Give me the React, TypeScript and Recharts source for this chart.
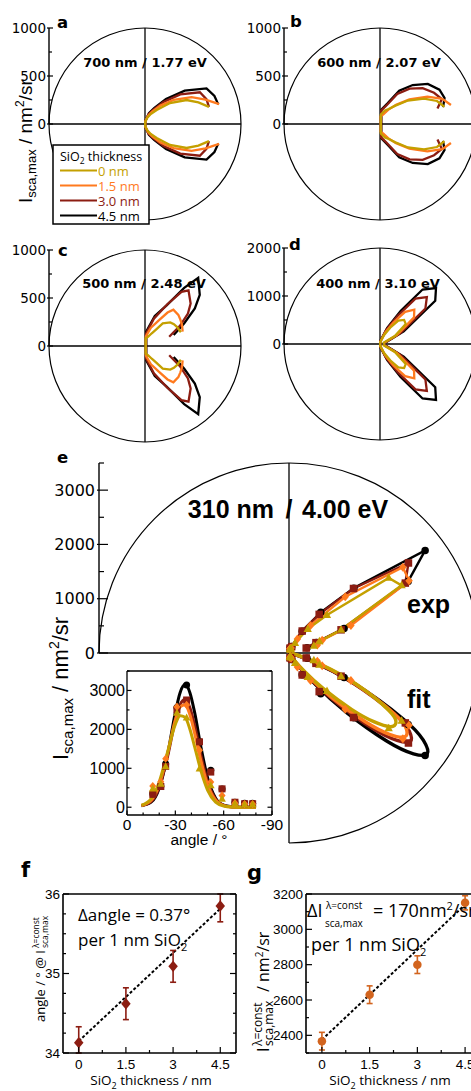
import React from 'react';
import {
  ComposedChart,
  Line,
  Scatter,
  XAxis,
  YAxis,
  ReferenceLine,
  ReferenceDot,
  ErrorBar,
} from 'recharts';

const DEJAVU = '"DejaVu Sans", sans-serif';
const ARIAL = '"Liberation Sans", Arial, sans-serif';
const MYRIAD = '"Open Sans", "Noto Sans", sans-serif';

// SiO2 shell thicknesses, thinnest first
const thicknessLabels = ['0 nm', '1.5 nm', '3.0 nm', '4.5 nm'];
const seriesColors = ['#C4A000', '#FF7A1E', '#8C1D12', '#000000'];
const seriesMarkers = ['triangle', 'diamond', 'square', 'circle'];
// thickest shell drawn first so the thin-shell traces end up on top
const drawOrder = [3, 2, 1, 0];

// radial axis ticks (nm²/sr)
const ticks1000 = [0, 250, 500, 750, 1000];
const major1000 = [0, 500, 1000];
const ticks2000 = [0, 500, 1000, 1500, 2000];
const major2000 = [0, 1000, 2000];
const ticks3500 = [0, 500, 1000, 1500, 2000, 2500, 3000, 3500];
const major3500 = [0, 1000, 2000, 3000];

// lobes: elevation above the substrate (deg) -> I_sca,max (nm²/sr), one row per shell
const angles700 = [85, 70, 60, 50, 40, 30, 22, 15];
const lobe700 = [
  [20, 70, 120, 190, 340, 500, 600, 690],
  [25, 90, 150, 250, 390, 560, 680, 800],
  [30, 110, 170, 300, 480, 660, 690, 690],
  [30, 120, 190, 340, 540, 740, 780, 790],
];

const angles600 = [85, 70, 60, 50, 40, 30, 22, 15];
const lobe600 = [
  [100, 150, 180, 250, 380, 530, 640, 695],
  [80, 110, 170, 260, 400, 570, 700, 765],
  [140, 210, 360, 480, 580, 650, 695, 620],
  [150, 230, 400, 530, 650, 715, 725, 680],
];

const angles500 = [85, 72, 62, 56, 52, 43, 37, 30, 21];
const lobe500 = [
  [80, 100, 150, 210, 300, 360, 377, 390, 400],
  [100, 200, 300, 420, 480, 475, 460, 445, 420],
  [130, 300, 490, 680, 736, 650, 560, 420, 270],
  [150, 330, 480, 730, 900, 780, 650, 470, 320],
];

const angles400 = [85, 66, 58, 52, 45, 38, 28, 15];
const lobe400 = [
  [30, 200, 400, 620, 710, 680, 350, 60],
  [40, 260, 530, 850, 1010, 900, 400, 80],
  [50, 330, 690, 1200, 1380, 1200, 480, 100],
  [60, 370, 810, 1440, 1650, 1460, 560, 120],
];

// 310 nm: measured points and gaussian fits
const expAngles = [16, 21, 24, 31, 37, 45, 52, 59, 67, 73, 78];
const exp310 = [
  [477, 600, 1050, 2420, 2300, 990, 560, 215, 90, 70, 70],
  [543, 654, 1248, 2580, 2626, 1465, 645, 300, 100, 80, 80],
  [330, 532, 1050, 2500, 2755, 1680, 903, 472, 128, 90, 90],
  [345, 540, 1110, 2560, 3140, 1690, 950, 470, 130, 100, 100],
];
const fitAngles = [9, 15, 20, 25, 30, 33, 36, 39, 42, 46, 50, 55, 60, 65, 70, 80];
const fit310 = [
  [50, 220, 650, 1390, 2130, 2350, 2310, 2010, 1550, 920, 440, 130, 30, 5, 0, 0],
  [45, 180, 580, 1350, 2240, 2580, 2630, 2380, 1900, 1170, 580, 180, 40, 6, 0, 0],
  [40, 150, 515, 1270, 2230, 2640, 2765, 2560, 2090, 1310, 660, 205, 45, 7, 0, 0],
  [40, 130, 490, 1310, 2430, 2950, 3150, 2950, 2430, 1520, 760, 230, 50, 10, 0, 0],
];
const insetAngleTicks = [0, -10, -20, -30, -40, -50, -60, -70, -80, -90];
const insetAngleMajor = [0, -30, -60, -90];

// peak position / peak intensity against shell thickness
const shellNm = [0, 1.5, 3, 4.5];
const shellTicks = [0, 0.75, 1.5, 2.25, 3, 3.75, 4.5];
const peakAngle = [34.13, 34.62, 35.09, 35.85];
// [below, above]; the parts running past the frame are left off
const peakAngleErr = [[0.13, 0.2], [0.2, 0.2], [0.2, 0.2], [0.2, 0.15]];
const angleTicks = [34, 34.25, 34.5, 34.75, 35, 35.25, 35.5, 35.75, 36];
const angleMajor = [34, 35, 36];
const angleSlope = 0.37; // deg per nm SiO2
const angleAtZero = 34.15;
const peakIntensity = [2367, 2630, 2800, 3150];
const peakIntensityErr = [[50, 50], [50, 50], [50, 50], [40, 40]];
const intensityTicks = [2300, 2400, 2500, 2600, 2700, 2800, 2900, 3000, 3100, 3200];
const intensityMajor = [2400, 2600, 2800, 3000, 3200];
const intensitySlope = 170; // nm²/sr per nm SiO2
const intensityAtZero = 2375;

const RAD = Math.PI / 180;
const polarPoint = (deg: number, v: number, side: number) => ({
  x: v * Math.cos(deg * RAD),
  y: side * v * Math.sin(deg * RAD),
});
const lobeBranch = (angles: number[], vals: number[], side: number) =>
  angles.map((a, i) => polarPoint(a, vals[i], side));
// lower branch from its tip in to the centre, then the upper branch back out
const mirroredLobe = (angles: number[], vals: number[]) => [
  ...lobeBranch(angles, vals, -1).reverse(),
  ...lobeBranch(angles, vals, 1),
];

type TickSpec = {
  side: 'left' | 'right' | 'top' | 'bottom';
  major: number[];
  inner: number;
  innerMinor: number;
  outer?: number;
  labels?: boolean;
  font?: string;
  size?: number;
  gap?: number;
};

const axisTick = (s: TickSpec) => (p: any) => {
  const v = p.payload.value;
  const isMajor = s.major.some((m) => Math.abs(m - v) < 1e-6);
  const inL = isMajor ? s.inner : s.innerMinor;
  const outL = isMajor ? s.outer ?? 0 : 0;
  const { x, y } = p;
  let c: number[];
  if (s.side === 'left') c = [x - outL, y, x + inL, y];
  else if (s.side === 'right') c = [x + outL, y, x - inL, y];
  else if (s.side === 'top') c = [x, y - outL, x, y + inL];
  else c = [x, y + outL, x, y - inL];
  const showLabel = s.labels && isMajor;
  return (
    <g>
      <line x1={c[0]} y1={c[1]} x2={c[2]} y2={c[3]} stroke="#000" strokeWidth={1.2} />
      {showLabel && s.side === 'left' && (
        <text x={x - (s.gap ?? 3)} y={y} textAnchor="end" dominantBaseline="central"
          fontFamily={s.font} fontSize={s.size} fill="#000">{String(v)}</text>
      )}
      {showLabel && s.side === 'bottom' && (
        <text x={x} y={y + (s.gap ?? 14)} textAnchor="middle"
          fontFamily={s.font} fontSize={s.size} fill="#000">{String(v)}</text>
      )}
    </g>
  );
};

const markerShape = (kind: string, color: string, s: number) => (p: any) => {
  const { cx, cy } = p;
  if (cx == null || cy == null) return <g />;
  if (kind === 'circle') return <circle cx={cx} cy={cy} r={s / 2} fill={color} />;
  if (kind === 'square') return <rect x={cx - s / 2} y={cy - s / 2} width={s} height={s} fill={color} />;
  if (kind === 'diamond')
    return (
      <polygon fill={color}
        points={`${cx},${cy - s * 0.6} ${cx + s * 0.5},${cy} ${cx},${cy + s * 0.6} ${cx - s * 0.5},${cy}`} />
    );
  return (
    <polygon fill={color}
      points={`${cx},${cy - s * 0.6} ${cx + s * 0.55},${cy + s * 0.4} ${cx - s * 0.55},${cy + s * 0.4}`} />
  );
};

type PolarProps = {
  cx: number; cy: number; R: number; max: number;
  ticks: number[]; major: number[];
  angles: number[]; lobes: number[][];
};

// small polar panels (a-d): full circle, lobe traces only
const PolarPanel = ({ cx, cy, R, max, ticks, major, angles, lobes }: PolarProps) => {
  const yw = 48;
  const pad = 10;
  return (
    <div style={{ position: 'absolute', left: cx - R - yw, top: cy - R - pad }}>
      <ComposedChart width={yw + 2 * R + pad} height={2 * R + 2 * pad}
        margin={{ top: pad, right: pad, bottom: pad, left: 0 }}>
        <XAxis type="number" dataKey="x" domain={[-max, max]} hide />
        <YAxis type="number" dataKey="y" domain={[-max, max]} ticks={ticks} interval={0}
          width={yw} axisLine={false} tickLine={false} tickSize={0} tickMargin={0}
          tick={axisTick({ side: 'left', major, inner: 4, innerMinor: 3, outer: 2, labels: true, font: DEJAVU, size: 13.5, gap: 3 })} />
        <ReferenceDot x={0} y={0} r={R} fill="none" stroke="#000" strokeWidth={1.2} />
        <ReferenceLine x={0} stroke="#000" strokeWidth={1.3} />
        <ReferenceLine y={0} stroke="#000" strokeWidth={1.3} />
        <ReferenceLine segment={[{ x: -max, y: 0 }, { x: -max, y: max }]} stroke="#000" strokeWidth={1.4} />
        {drawOrder.map((i) => (
          <Line key={i} data={mirroredLobe(angles, lobes[i])} dataKey="y" type="linear"
            stroke={seriesColors[i]} strokeWidth={2.3} dot={false} isAnimationActive={false} />
        ))}
      </ComposedChart>
    </div>
  );
};

// 310 nm panel: measured lobe on top, fitted lobe below, circle open where the inset sits
const PanelE = () => {
  const cx = 289, cy = 653, R = 190, max = 3500, yw = 52, pad = 6;
  const arc = (p: any) => (
    <path d={`M ${p.cx - R} ${p.cy} A ${R} ${R} 0 1 1 ${p.cx} ${p.cy + R}`}
      fill="none" stroke="#000" strokeWidth={1.2} />
  );
  const series = drawOrder.flatMap((i) => [
    <Line key={`e${i}`} data={lobeBranch(expAngles, exp310[i], 1)} dataKey="y" type="linear"
      stroke={seriesColors[i]} strokeWidth={2.4} dot={false} isAnimationActive={false} />,
    <Scatter key={`em${i}`} data={lobeBranch(expAngles, exp310[i], 1)}
      shape={markerShape(seriesMarkers[i], seriesColors[i], 7.5)} isAnimationActive={false} />,
    <Line key={`f${i}`} data={lobeBranch(fitAngles, fit310[i], -1)} dataKey="y" type="natural"
      stroke={seriesColors[i]} strokeWidth={3.4} dot={false} isAnimationActive={false} />,
    <Scatter key={`fm${i}`} data={lobeBranch(expAngles, exp310[i], -1)}
      shape={markerShape(seriesMarkers[i], seriesColors[i], 7.5)} isAnimationActive={false} />,
  ]);
  return (
    <div style={{ position: 'absolute', left: cx - R - yw, top: cy - R - pad }}>
      <ComposedChart width={yw + 2 * R + pad} height={2 * R + 2 * pad}
        margin={{ top: pad, right: pad, bottom: pad, left: 0 }}>
        <XAxis type="number" dataKey="x" domain={[-max, max]} hide />
        <YAxis type="number" dataKey="y" domain={[-max, max]} ticks={ticks3500} interval={0}
          width={yw} axisLine={false} tickLine={false} tickSize={0} tickMargin={0}
          tick={axisTick({ side: 'left', major: major3500, inner: 9, innerMinor: 5, outer: 2, labels: true, font: DEJAVU, size: 16, gap: 4 })} />
        <ReferenceDot x={0} y={0} r={R} shape={arc} />
        <ReferenceLine x={0} stroke="#000" strokeWidth={1.3} />
        <ReferenceLine y={0} stroke="#000" strokeWidth={1.3} />
        <ReferenceLine segment={[{ x: -max, y: 0 }, { x: -max, y: max }]} stroke="#000" strokeWidth={1.4} />
        {series}
      </ComposedChart>
    </div>
  );
};

// cartesian view of the 310 nm data against emission angle
const InsetE = () => {
  const left = 127, top = 671, w = 145, h = 144, yw = 46, extra = 16;
  const boxLine = { stroke: '#000', strokeWidth: 1.3 };
  const series = drawOrder.flatMap((i) => [
    <Line key={`l${i}`} data={fitAngles.map((a, j) => ({ x: -a, y: fit310[i][j] }))} dataKey="y"
      type="monotone" stroke={seriesColors[i]} strokeWidth={3} dot={false} isAnimationActive={false} />,
    <Scatter key={`s${i}`} data={expAngles.map((a, j) => ({ x: -a, y: exp310[i][j] }))}
      shape={markerShape(seriesMarkers[i], seriesColors[i], 7)} isAnimationActive={false} />,
  ]);
  return (
    <div style={{ position: 'absolute', left: left - yw, top: top - 3 }}>
      <ComposedChart width={yw + w + 4 + extra} height={3 + h + 22}
        margin={{ top: 2, right: 3 + extra, bottom: 0, left: 0 }}>
        <XAxis type="number" dataKey="x" domain={[-90, 0]} reversed allowDataOverflow
          ticks={insetAngleTicks} interval={0} height={22} tickSize={0} tickMargin={0} tickLine={false}
          axisLine={boxLine}
          tick={axisTick({ side: 'bottom', major: insetAngleMajor, inner: 4.5, innerMinor: 2.5, labels: true, font: ARIAL, size: 15.5, gap: 14.5 })} />
        <XAxis xAxisId="top" orientation="top" type="number" domain={[-90, 0]} reversed allowDataOverflow
          ticks={insetAngleTicks} interval={0} height={1} tickSize={0} tickMargin={0} tickLine={false}
          axisLine={boxLine} tick={axisTick({ side: 'top', major: insetAngleMajor, inner: 4.5, innerMinor: 2.5 })} />
        <YAxis type="number" dataKey="y" domain={[-200, 3500]} allowDataOverflow ticks={ticks3500}
          interval={0} width={yw} tickSize={0} tickMargin={0} tickLine={false} axisLine={boxLine}
          tick={axisTick({ side: 'left', major: major3500, inner: 4.5, innerMinor: 2.5, labels: true, font: ARIAL, size: 16, gap: 2 })} />
        <YAxis yAxisId="right" orientation="right" type="number" domain={[-200, 3500]} allowDataOverflow
          ticks={ticks3500} interval={0} width={1} tickSize={0} tickMargin={0} tickLine={false}
          axisLine={boxLine} tick={axisTick({ side: 'right', major: major3500, inner: 4.5, innerMinor: 2.5 })} />
        {series}
      </ComposedChart>
    </div>
  );
};

type TrendProps = {
  left: number; top: number; w: number; h: number; yw: number;
  yDomain: [number, number]; yTicks: number[]; yMajor: number[];
  values: number[]; errors: number[][]; slope: number; atZero: number;
  color: string; kind: string; size: number;
};

// box plot with error bars and a dashed linear fit (f, g)
const TrendPanel = (t: TrendProps) => {
  const boxLine = { stroke: '#000', strokeWidth: 1.6 };
  const headroom = 10;
  const points = shellNm.map((x, i) => ({ x, y: t.values[i], err: t.errors[i] }));
  const fit = [shellNm[0], shellNm[shellNm.length - 1]].map((x) => ({ x, y: t.atZero + t.slope * x }));
  return (
    <div style={{ position: 'absolute', left: t.left - t.yw, top: t.top - headroom }}>
      <ComposedChart width={t.yw + t.w + 4} height={headroom + t.h + 24}
        margin={{ top: headroom - 1, right: 3, bottom: 0, left: 0 }}>
        <XAxis type="number" dataKey="x" domain={[-0.5, 5]} allowDataOverflow ticks={shellTicks}
          interval={0} height={24} tickSize={0} tickMargin={0} tickLine={false} axisLine={boxLine}
          tick={axisTick({ side: 'bottom', major: shellNm, inner: 6, innerMinor: 3, labels: true, font: ARIAL, size: 13.5, gap: 16 })} />
        <XAxis xAxisId="top" orientation="top" type="number" domain={[-0.5, 5]} allowDataOverflow
          ticks={shellTicks} interval={0} height={1} tickSize={0} tickMargin={0} tickLine={false}
          axisLine={boxLine} tick={axisTick({ side: 'top', major: shellNm, inner: 6, innerMinor: 3 })} />
        <YAxis type="number" dataKey="y" domain={t.yDomain} allowDataOverflow ticks={t.yTicks}
          interval={0} width={t.yw} tickSize={0} tickMargin={0} tickLine={false} axisLine={boxLine}
          tick={axisTick({ side: 'left', major: t.yMajor, inner: 6, innerMinor: 3, labels: true, font: ARIAL, size: 13.5, gap: 3 })} />
        <YAxis yAxisId="right" orientation="right" type="number" domain={t.yDomain} allowDataOverflow
          ticks={t.yTicks} interval={0} width={1} tickSize={0} tickMargin={0} tickLine={false}
          axisLine={boxLine} tick={axisTick({ side: 'right', major: t.yMajor, inner: 6, innerMinor: 3 })} />
        <Line data={fit} dataKey="y" type="linear" stroke="#000" strokeWidth={2}
          strokeDasharray="3 2" dot={false} isAnimationActive={false} />
        <Scatter data={points} shape={markerShape(t.kind, t.color, t.size)} isAnimationActive={false}>
          <ErrorBar dataKey="err" direction="y" width={3} stroke={t.color} strokeWidth={1.6} />
        </Scatter>
      </ComposedChart>
    </div>
  );
};

const Annotations = () => (
  <svg width={471} height={1091} style={{ position: 'absolute', left: 0, top: 0 }}>
    <g fontFamily={DEJAVU} fontWeight="bold" fill="#000">
      <text x={57} y={28} fontSize={16.5}>a</text>
      <text x={290} y={27} fontSize={16.5}>b</text>
      <text x={58} y={256} fontSize={16.5}>c</text>
      <text x={289} y={250} fontSize={16.5}>d</text>
      <text x={57} y={463} fontSize={16.5}>e</text>
      <text x={21} y={877} fontSize={21}>f</text>
      <text x={247} y={880} fontSize={21}>g</text>
    </g>
    <g fontFamily={DEJAVU} fontWeight="bold" fontSize={13} textAnchor="middle" fill="#000">
      <text x={145} y={67}>700 nm / 1.77 eV</text>
      <text x={379} y={67}>600 nm / 2.07 eV</text>
      <text x={144} y={288}>500 nm / 2.48 eV</text>
      <text x={378} y={288}>400 nm / 3.10 eV</text>
    </g>
    <g fontFamily={ARIAL} fontWeight="bold" fontSize={25} fill="#000">
      <text x={274} y={518} textAnchor="end">310 nm</text>
      <text x={289} y={518} textAnchor="middle">/</text>
      <text x={302} y={518}>4.00 eV</text>
      <text x={407} y={613}>exp</text>
      <text x={407} y={708}>fit</text>
    </g>

    {/* radial axis titles */}
    <g transform="translate(32 203) rotate(-90)">
      <text fontFamily={ARIAL} fontSize={19} fill="#000">
        I<tspan fontSize={13} dy={4}>sca,max</tspan>
        <tspan dy={-4}> / nm</tspan>
        <tspan fontSize={12} dy={-8}>2</tspan>
        <tspan dy={8}>/sr</tspan>
      </text>
    </g>
    <g transform="translate(68 760) rotate(-90)">
      <text fontFamily={ARIAL} fontSize={22} fill="#000">
        I<tspan fontSize={15} dy={5}>sca,max</tspan>
        <tspan dy={-5}> / nm</tspan>
        <tspan fontSize={14} dy={-9}>2</tspan>
        <tspan dy={9}>/sr</tspan>
      </text>
    </g>

    {/* legend */}
    <rect x={53} y={145} width={96} height={79} fill="#fff" stroke="#000" strokeWidth={1.5} />
    <text x={60} y={160.5} fontFamily={MYRIAD} fontSize={12.5} fill="#000">
      SiO<tspan fontSize={8.5} dy={3}>2</tspan><tspan dy={-3}> thickness</tspan>
    </text>
    {thicknessLabels.map((label, i) => (
      <g key={label}>
        <line x1={60} x2={97} y1={170.5 + i * 15} y2={170.5 + i * 15} stroke={seriesColors[i]} strokeWidth={2} />
        <text x={98} y={175.5 + i * 15} fontFamily={MYRIAD} fontSize={13} fill={seriesColors[i]}>{label}</text>
      </g>
    ))}

    <text x={199} y={845} textAnchor="middle" fontFamily={ARIAL} fontSize={15.5} fill="#000">angle / °</text>

    {/* f */}
    <g fontFamily={MYRIAD} fill="#000">
      <text x={78} y={921} fontSize={17}>Δangle = 0.37°</text>
      <text x={78} y={946} fontSize={17}>
        per 1 nm SiO<tspan fontSize={11} dy={5}>2</tspan>
      </text>
      <text x={151} y={1085} fontSize={13.5} textAnchor="middle">
        SiO<tspan fontSize={9} dy={4}>2</tspan><tspan dy={-4}> thickness / nm</tspan>
      </text>
      <g transform="translate(45 1022) rotate(-90)">
        <text x={0} y={0} fontSize={13}>angle / ° @ I</text>
        <text x={74} y={-6} fontSize={8.5}>λ=const</text>
        <text x={74} y={3} fontSize={8.5}>sca,max</text>
      </g>
    </g>

    {/* g */}
    <g fontFamily={MYRIAD} fill="#000">
      <text x={307} y={917} fontSize={18}>ΔI</text>
      <text x={326} y={909} fontSize={10}>λ=const</text>
      <text x={325} y={927} fontSize={10}>sca,max</text>
      <text x={373} y={917} fontSize={18}>
        = 170nm<tspan fontSize={11} dy={-7}>2</tspan><tspan dy={7}>/sr</tspan>
      </text>
      <text x={311} y={951} fontSize={18}>
        per 1 nm SiO<tspan fontSize={11} dy={5}>2</tspan>
      </text>
      <text x={390} y={1085} fontSize={13.5} textAnchor="middle">
        SiO<tspan fontSize={9} dy={4}>2</tspan><tspan dy={-4}> thickness / nm</tspan>
      </text>
      <g transform="translate(269 1052) rotate(-90)">
        <text x={0} y={0} fontSize={16}>I</text>
        <text x={6} y={-7} fontSize={12}>λ=const</text>
        <text x={6} y={4} fontSize={12}>sca,max</text>
        <text x={60} y={0} fontSize={16}>
          / nm<tspan fontSize={10} dy={-6}>2</tspan><tspan dy={6}>/sr</tspan>
        </text>
      </g>
    </g>
  </svg>
);

export default function App() {
  return (
    <div style={{ position: 'absolute', left: 0, top: 0, width: 471, height: 1091, overflow: 'hidden', background: '#fff' }}>
      <PolarPanel cx={145} cy={124} R={96} max={1000} ticks={ticks1000} major={major1000} angles={angles700} lobes={lobe700} />
      <PolarPanel cx={380} cy={124} R={96} max={1000} ticks={ticks1000} major={major1000} angles={angles600} lobes={lobe600} />
      <PolarPanel cx={145} cy={346} R={96} max={1000} ticks={ticks1000} major={major1000} angles={angles500} lobes={lobe500} />
      <PolarPanel cx={380} cy={344} R={96} max={2000} ticks={ticks2000} major={major2000} angles={angles400} lobes={lobe400} />
      <PanelE />
      <InsetE />
      <TrendPanel left={63} top={894} w={173} h={159} yw={30} yDomain={[34, 36]} yTicks={angleTicks}
        yMajor={angleMajor} values={peakAngle} errors={peakAngleErr} slope={angleSlope} atZero={angleAtZero}
        color="#8C1D12" kind="diamond" size={9.5} />
      <TrendPanel left={306} top={894} w={175} h={159} yw={36} yDomain={[2300, 3200]} yTicks={intensityTicks}
        yMajor={intensityMajor} values={peakIntensity} errors={peakIntensityErr} slope={intensitySlope}
        atZero={intensityAtZero} color="#D2641E" kind="circle" size={8.5} />
      <Annotations />
    </div>
  );
}
